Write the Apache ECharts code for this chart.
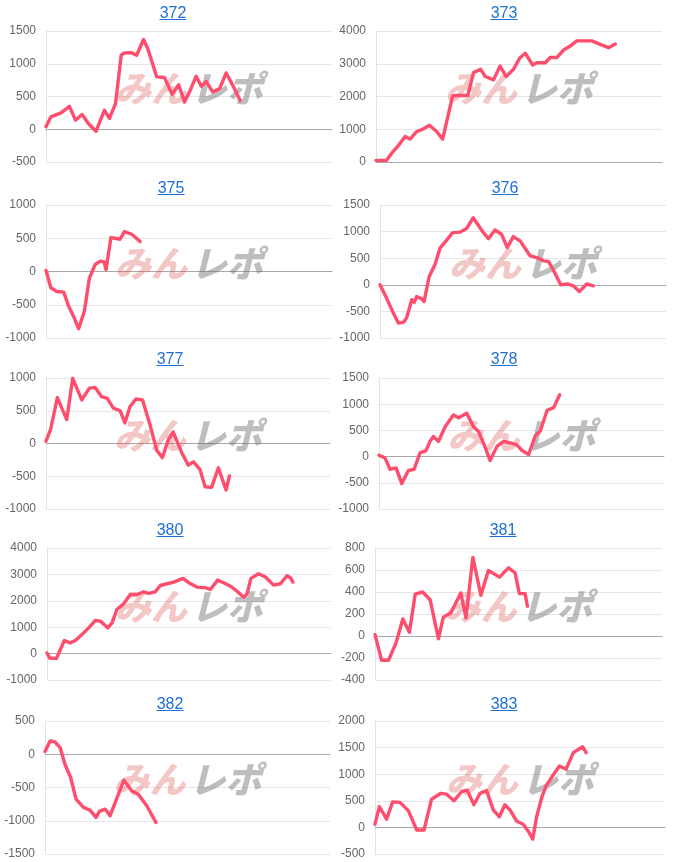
<!DOCTYPE html>
<html>
<head>
<meta charset="utf-8">
<script src="https://cdn.jsdelivr.net/npm/echarts@6/dist/echarts.min.js"></script>
<style>
html,body{margin:0;padding:0;background:#fff;}
#c{width:674px;height:862px;}
</style>
</head>
<body>
<div id="c"></div>
<script>
// ---- data (x = position along the horizontal axis in % of its width) ----
const titles = ['372','373','375','376','377','378','380','381','382','383'];

const yMin = [-500, 0, -1000, -1000, -1000, -1000, -1000, -400, -1500, -500];
const yMax = [1500, 4000, 1000, 1500, 1000, 1500, 4000, 800, 500, 2000];
const yStep = [500, 1000, 500, 500, 500, 500, 1000, 200, 500, 500];

const x372 = [0,1.75,5.25,8.2,10.3,12.6,14.9,17.5,20.4,22.2,24.3,26.3,27.4,29.8,31.7,34.1,35.6,38.7,41.4,44.1,46.4,48.4,50.2,52.5,54.3,56,58.3,60.7,63,65.3,67.9];
const y372 = [40,190,250,350,140,225,85,-30,290,165,390,1130,1165,1170,1130,1370,1230,800,790,535,680,415,570,810,655,730,570,620,860,670,440];

const x373 = [0,3.7,5.5,7.8,10.2,11.9,14.2,16.3,18.7,21.2,23.3,26.8,28,32.1,34.1,36.6,38.2,41.1,43.4,45.5,48.1,50.2,52.2,54.8,56.2,59.2,60.9,63.2,65.6,67.9,70.2,75.5,78.4,81.3,83.7];
const y373 = [50,50,270,500,780,700,930,1000,1120,930,700,2020,2030,2030,2730,2830,2610,2510,2930,2610,2830,3170,3320,2960,3030,3030,3190,3190,3420,3540,3700,3700,3590,3490,3600];

const x375 = [0,1.7,3.8,6.2,7.9,9.9,11.4,13.4,15.2,17.2,19,20.3,21,22.7,24.2,25.9,27.4,30,32.9];
const y375 = [15,-245,-300,-310,-520,-700,-860,-600,-95,105,155,145,30,510,500,485,600,560,450];

const x376 = [0,2.3,4.4,6.4,8.2,9.3,11.1,12,12.8,14.6,15.4,17.2,19.2,21,23.1,25.4,28,30.3,32.6,35.5,37.9,40.2,42.5,44.5,46.6,49,52.4,55.4,57.1,58.9,60.6,63.2,65.8,67.6,69.7,72.3,74.6];
const y376 = [0,-250,-500,-720,-705,-625,-280,-330,-220,-265,-315,155,375,690,825,980,990,1060,1260,1030,865,1030,950,700,905,825,550,500,450,440,280,0,15,-20,-125,15,-20];

const x377 = [0,1.6,4,7.3,9.4,12.6,15.3,17.3,19.6,21.6,23.7,26.1,27.8,29.6,31.7,34,36.6,39,41,43.1,44.8,47.8,50.1,51.9,54.2,56,58.3,60.7,63.4,64.6];
const y377 = [35,210,700,365,995,665,845,855,715,690,540,500,315,565,680,665,290,-105,-215,60,175,-140,-330,-280,-395,-660,-670,-370,-710,-495];

const x378 = [0,2.1,3.9,6,8,10.3,12.3,14.4,16.5,17.9,19.1,20.9,23.2,26.1,27.9,30.8,33.2,34.9,36.9,39,41.4,43.7,46.1,48.4,50.2,52.5,54.9,56.6,59,61.3,63.4];
const y378 = [25,-25,-245,-215,-515,-265,-245,70,115,290,385,290,570,795,740,825,570,480,225,-75,195,290,260,225,115,40,405,490,885,935,1180];

const x380 = [0,0.9,3.3,6.1,8.2,10,12.3,14.7,17,18.8,21.4,22.9,24.6,27,29.3,31.7,34,35.8,38.1,39.9,42.3,44.6,47.9,49.9,52.8,55.8,57.5,60.1,62.2,64.6,66.9,69.2,70.4,71.8,74.5,76.9,79.8,82.2,84.5,85.7,86.6];
const y380 = [25,-165,-190,495,405,495,720,975,1255,1230,975,1165,1670,1885,2240,2240,2340,2280,2340,2580,2645,2710,2850,2685,2520,2495,2430,2785,2685,2555,2365,2140,2240,2850,3025,2900,2595,2645,2950,2875,2710];

const x381 = [0,2.3,4.7,7.3,9.7,12,14,16.6,19.2,22.1,23.8,26.4,29.9,31.7,34.1,36.9,39.5,43.4,46.5,48.8,50.3,52.3,53.1];
const y381 = [12,-220,-220,-65,155,35,380,400,330,-25,170,210,390,165,715,370,595,535,620,575,385,385,270];

const x382 = [0,1.8,3.5,5.3,7,9,10.9,13.5,15.8,17.9,19.1,21.1,22.8,25.1,27.7,30.4,32.7,35.7,38.9];
const y382 = [40,200,185,100,-150,-350,-675,-800,-840,-950,-860,-825,-925,-675,-390,-550,-600,-775,-1025];

const x383 = [0,1.5,4,6.1,8.6,11.5,14.4,16.9,19.5,22.6,24.7,27.2,29.9,31.8,34.1,36.2,38.5,40.8,42.9,44.8,46.6,48.9,51.1,52.9,54.4,55.7,57.5,59,61.5,63.6,65.9,68.4,71.6,72.8];
const y383 = [60,390,155,480,470,315,-50,-50,530,640,625,500,675,700,425,640,690,325,200,425,325,115,60,-75,-220,190,565,780,990,1155,1095,1405,1515,1405];

const xs = [x372,x373,x375,x376,x377,x378,x380,x381,x382,x383];
const ys = [y372,y373,y375,y376,y377,y378,y380,y381,y382,y383];

// ---- layout ----
const grids = [
  {left:46, top:31, width:286, height:131},
  {left:376, top:31, width:286, height:131},
  {left:46, top:205, width:286, height:133},
  {left:380, top:205, width:286, height:133},
  {left:46, top:378, width:284, height:131},
  {left:379, top:378, width:285, height:131},
  {left:47, top:548, width:284, height:132},
  {left:375, top:548, width:287, height:132},
  {left:45, top:721, width:285, height:133},
  {left:375, top:721, width:290, height:133}
];
const titleX = [173,504,171,505,170,504,170,503,170,504];
const titleY = [12,187,358,529,703];

const LINE = '#ff4d6d';
const BLUE = '#1f6fd6';
const FONT = '"Liberation Sans", Arial, sans-serif';

const xAxis = [], yAxis = [], series = [], graphic = [];
grids.forEach((g, i) => {
  xAxis.push({
    type:'value', gridIndex:i, min:0, max:100,
    axisLabel:{show:false}, axisTick:{show:false}, splitLine:{show:false},
    axisLine:{show:true, onZero:true, lineStyle:{color:'#a8a8a8', width:1}}
  });
  yAxis.push({
    type:'value', gridIndex:i, min:yMin[i], max:yMax[i], interval:yStep[i],
    axisLine:{show:true, lineStyle:{color:'#e3e3e3'}},
    axisTick:{show:false},
    axisLabel:{color:'#666', fontSize:12, fontFamily:FONT, margin:10, formatter:v => String(v)},
    splitLine:{show:true, lineStyle:{color:'#e6e6e6', width:1}}
  });
  series.push({
    type:'line', xAxisIndex:i, yAxisIndex:i, symbol:'none', smooth:false,
    data: xs[i].map((x, k) => [x, ys[i][k]]),
    lineStyle:{color:LINE, width:3.4, cap:'round', join:'round'},
    z:5, animation:false
  });
  // watermark
  const cx = g.left + g.width / 2, cy = g.top + g.height / 2 - 8;
  graphic.push({
    type:'text', x:cx - 2, y:cy, z:1, silent:true,
    style:{text:'みん', fill:'rgba(220,80,80,0.32)', align:'right', verticalAlign:'middle',
      font:'italic 900 36px "Noto Sans CJK JP", sans-serif'}
  });
  graphic.push({
    type:'text', x:cx + 2, y:cy, z:1, silent:true,
    style:{text:'レポ', fill:'rgba(110,110,110,0.45)', align:'left', verticalAlign:'middle',
      font:'italic 900 36px "Noto Sans CJK JP", sans-serif'}
  });
  // title + underline
  const tx = titleX[i], ty = titleY[Math.floor(i / 2)];
  graphic.push({
    type:'text', x:tx, y:ty + 2, z:10,
    style:{text:titles[i], fill:BLUE, align:'center', verticalAlign:'middle',
      font:'16px ' + FONT}
  });
  graphic.push({
    type:'line', z:10,
    shape:{x1:tx - 13.5, y1:ty + 7.5, x2:tx + 13.5, y2:ty + 7.5},
    style:{stroke:BLUE, lineWidth:1}
  });
});

const chart = echarts.init(document.getElementById('c'), null, {renderer:'canvas'});
chart.setOption({
  animation:false,
  backgroundColor:'#fff',
  grid: grids.map(g => Object.assign({containLabel:false}, g)),
  xAxis, yAxis, series, graphic
});
</script>
</body>
</html>
